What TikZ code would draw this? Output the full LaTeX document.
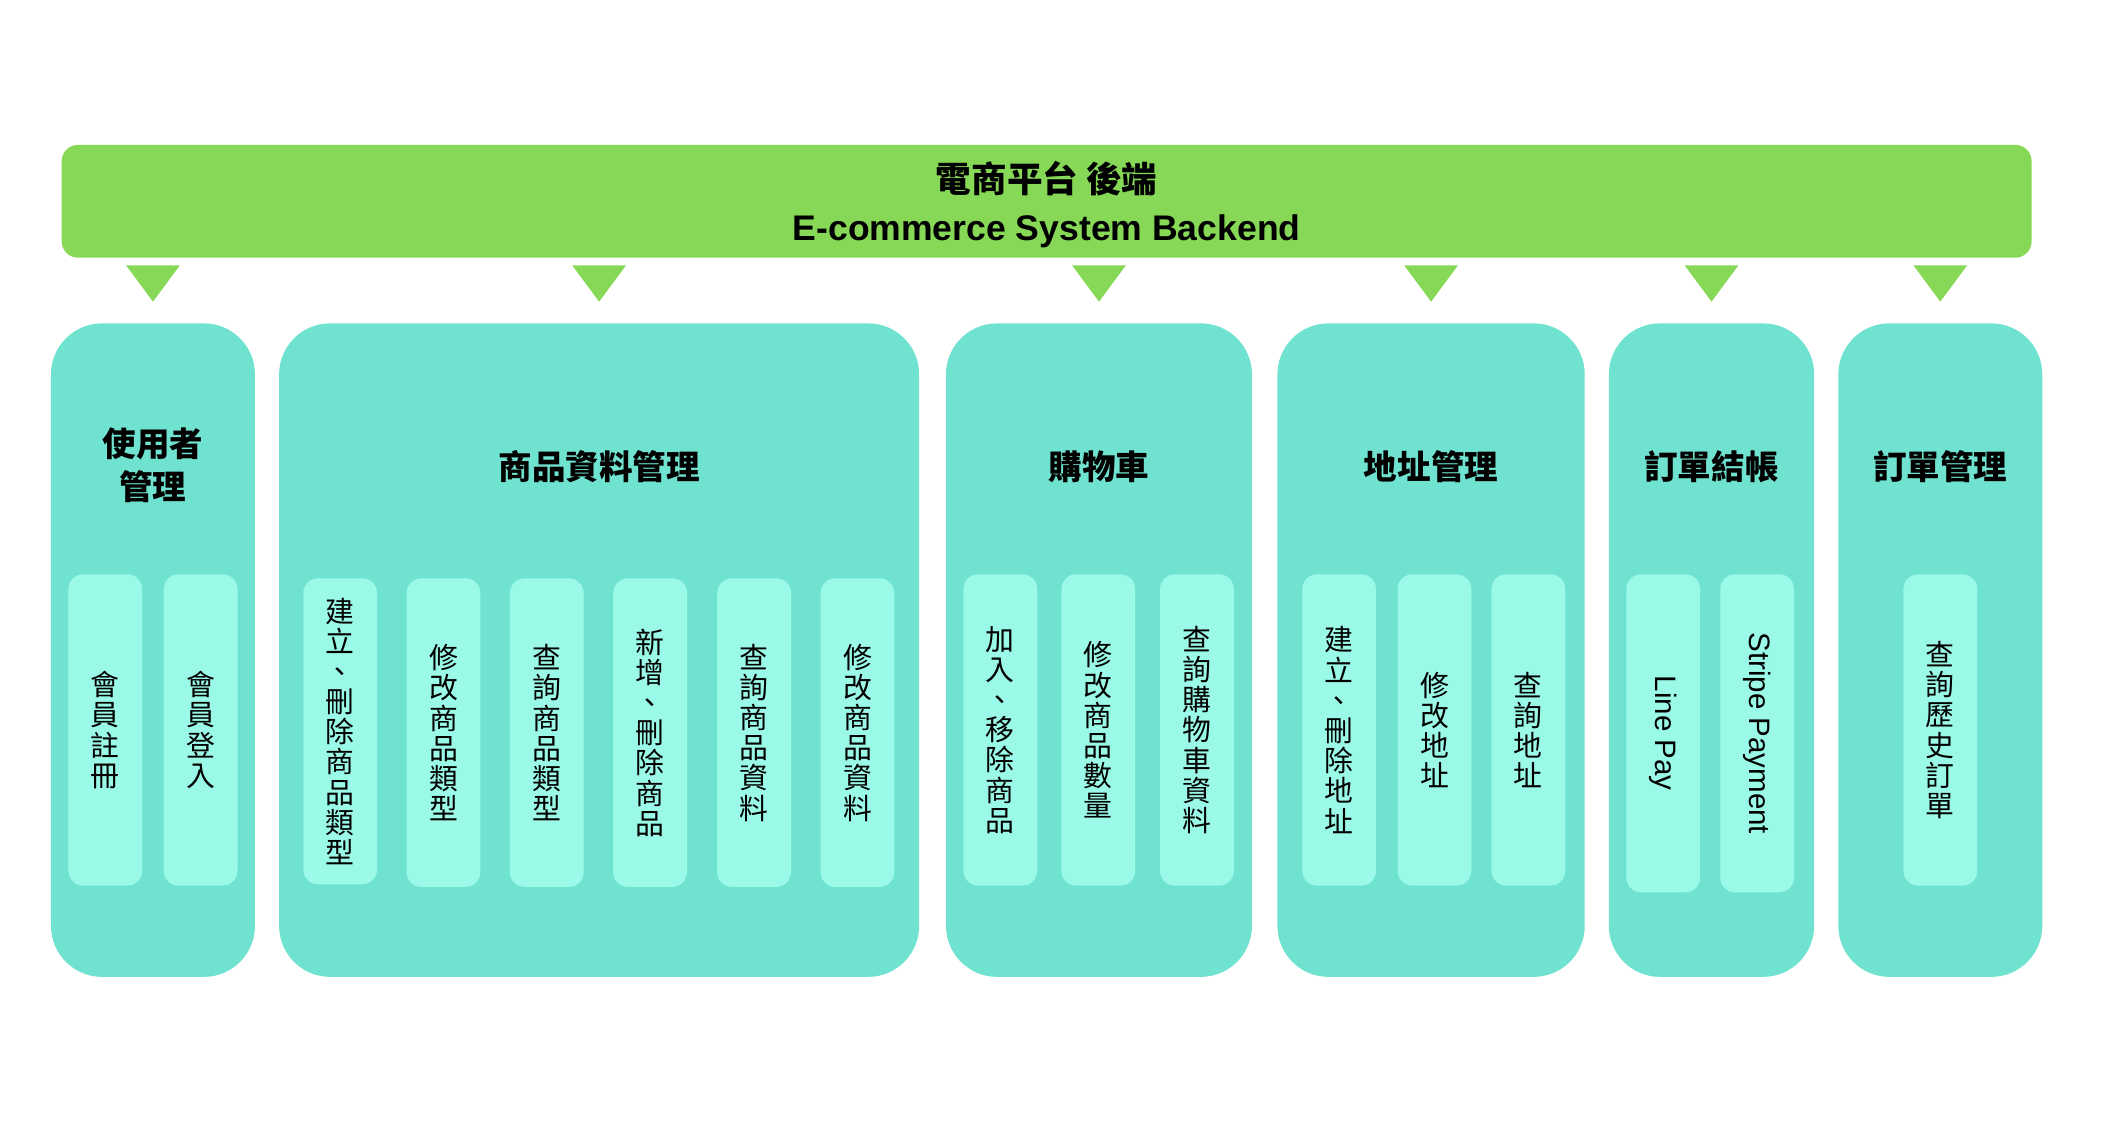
\documentclass[tikz,border=0pt]{standalone}
\usepackage{fontspec}
\setmainfont{Liberation Sans}
\newfontfamily\cjk{Noto Sans CJK TC}
\usetikzlibrary{calc}
\definecolor{barc}{RGB}{134,216,86}
\definecolor{grpc}{RGB}{111,226,208}
\definecolor{itemc}{RGB}{155,249,232}
\tikzset{
  topbar/.style={fill=barc, rounded corners=12pt, inner sep=0pt, minimum width=1468pt, minimum height=84pt},
  toptitle/.style={align=center, inner sep=0pt, font=\bfseries\fontsize{26.5}{36}\selectfont},
  grp/.style={fill=grpc, rounded corners=38pt, inner sep=0pt, minimum height=487pt},
  grptitle/.style={font=\cjk\bfseries\fontsize{25}{32}\selectfont, align=center, inner sep=0pt},
  item/.style={fill=itemc, rounded corners=11pt, inner sep=0pt, minimum width=55pt, minimum height=232pt, align=center,
    font=\cjk\fontsize{21.5}{22.5}\selectfont},
  tri/.style={fill=barc}
}
\begin{document}
\begin{tikzpicture}[x=1pt,y=-1pt]
\useasboundingbox (0,0) rectangle (1568,845);

% top bar
\node[topbar] (top) at (780,150) {};
\node[toptitle] (toptext) at (780,152.5) {{\cjk 電商平台 後端}\\E-commerce System Backend};

% groups
\node[grp, minimum width=152pt] (g1) at (114,484.5) {};
\node[grp, minimum width=477pt] (g2) at (446.5,484.5) {};
\node[grp, minimum width=228pt] (g3) at (819,484.5) {};
\node[grp, minimum width=229pt] (g4) at (1066.5,484.5) {};
\node[grp, minimum width=153pt] (g5) at (1275.5,484.5) {};
\node[grp, minimum width=152pt] (g6) at (1446,484.5) {};

% connectors (triangles)
\foreach \g in {g1,g2,g3,g4,g5,g6}{
  \fill[tri] ($(\g.north)+(-20,-43)$) -- ($(\g.north)+(20,-43)$) -- ($(\g.north)+(0,-16)$) -- cycle;
}

% group titles
\node[grptitle] (t1) at (114,347) {使用者\\管理};
\node[grptitle] (t2) at (446.5,348) {商品資料管理};
\node[grptitle] (t3) at (819,348) {購物車};
\node[grptitle] (t4) at (1066.5,348) {地址管理};
\node[grptitle] (t5) at (1275.5,348) {訂單結帳};
\node[grptitle] (t6) at (1446,348) {訂單管理};

% items group 1
\node[item] (i11) at (78.5,544) {會\\員\\註\\冊};
\node[item] (i12) at (149.5,544) {會\\員\\登\\入};

% items group 2
\node[item, minimum height=228pt] (i21) at (253.5,545) {建\\立\\、\\刪\\除\\商\\品\\類\\型};
\node[item, minimum height=230pt] (i22) at (330.5,546) {修\\改\\商\\品\\類\\型};
\node[item, minimum height=230pt] (i23) at (407.5,546) {查\\詢\\商\\品\\類\\型};
\node[item, minimum height=230pt] (i24) at (484.5,546) {新\\增\\、\\刪\\除\\商\\品};
\node[item, minimum height=230pt] (i25) at (562,546) {查\\詢\\商\\品\\資\\料};
\node[item, minimum height=230pt] (i26) at (639,546) {修\\改\\商\\品\\資\\料};

% items group 3
\node[item] (i31) at (745.5,544) {加\\入\\、\\移\\除\\商\\品};
\node[item] (i32) at (818.5,544) {修\\改\\商\\品\\數\\量};
\node[item] (i33) at (892,544) {查\\詢\\購\\物\\車\\資\\料};

% items group 4
\node[item] (i41) at (998,544) {建\\立\\、\\刪\\除\\地\\址};
\node[item] (i42) at (1069,544) {修\\改\\地\\址};
\node[item] (i43) at (1139,544) {查\\詢\\地\\址};

% items group 5
\node[item, minimum height=237pt] (i51) at (1239.5,546.5) {\rotatebox{-90}{\normalfont\fontsize{22}{24}\selectfont Line Pay}};
\node[item, minimum height=237pt] (i52) at (1309.5,546.5) {\rotatebox{-90}{\normalfont\fontsize{22}{24}\selectfont Stripe Payment}};

% items group 6
\node[item] (i61) at (1446,544) {查\\詢\\歷\\史\\訂\\單};
\end{tikzpicture}
\end{document}
